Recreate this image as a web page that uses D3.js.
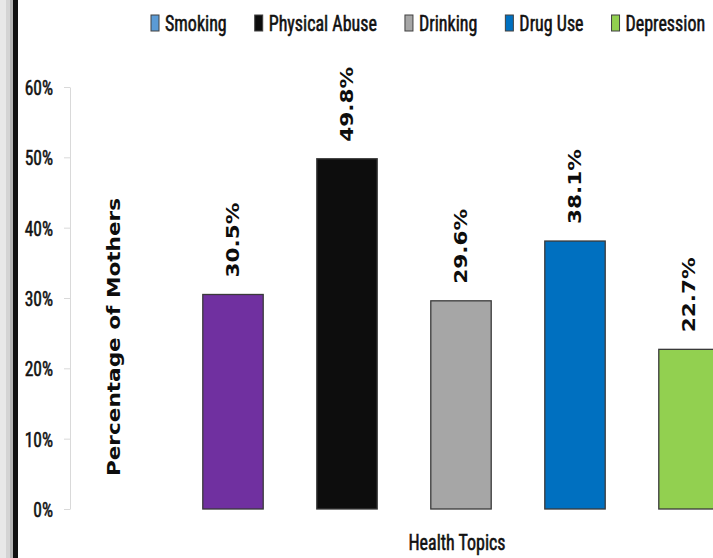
<!DOCTYPE html>
<html>
  <head>
    <meta charset="UTF-8">
    <script src="https://d3js.org/d3.v7.min.js"></script>
    <style>
      body{ margin: 0; background: #fff; overflow: hidden; }
      .narrow{ font-family: "Liberation Sans Narrow", "Arial Narrow", "Roboto Condensed", sans-serif; fill: #111; stroke: #111; stroke-width: 0.45px; }
      .bold{ font-family: "DejaVu Sans", Verdana, sans-serif; font-weight: bold; fill: #0d0d0d; }
      .axis .domain, .axis line{ stroke: #d9d9d9; }
    </style>
    <title>Health Topics</title>
  </head>
  <body>
    <svg id="chart" width="713" height="558"></svg>

    <script>
      // chart values
      const topics = ["Smoking", "Physical Abuse", "Drinking", "Drug Use", "Depression"];
      const values = [30.5, 49.8, 29.6, 38.1, 22.7];
      const barColors = ["#7030a0", "#0d0d0d", "#a6a6a6", "#0070c0", "#92d050"];
      const legendColors = ["#5b9bd5", "#0d0d0d", "#a6a6a6", "#0070c0", "#92d050"];
      const yTicks = [0, 10, 20, 30, 40, 50, 60];

      const svg = d3.select("svg#chart");

      // frame strip on the left edge
      const strips = [["#e8e8e8", 0, 6], ["#d4d4d4", 6, 10], ["#b4b4b4", 10, 13], ["#111", 13, 18]];
      svg.selectAll("rect.strip").data(strips).join("rect")
         .attr("class", "strip")
         .attr("x", d => d[1]).attr("y", 0)
         .attr("width", d => d[2] - d[1]).attr("height", 558)
         .attr("fill", d => d[0]);

      const yScale = d3.scaleLinear().domain([0, 60]).range([509, 87]);
      const xScale = d3.scaleBand().domain(topics).range([176, 746])
                       .paddingInner(0.47).paddingOuter(0.235);

      // y axis
      let leftAxis = d3.axisLeft(yScale).tickValues(yTicks)
                       .tickFormat(d => d + "%").tickSize(6).tickSizeOuter(0);
      let yAxis = svg.append("g")
         .attr("class", "axis")
         .attr("transform", "translate(70,0)")
         .call(leftAxis);
      yAxis.selectAll("text")
           .attr("class", "narrow")
           .attr("x", -17)
           .attr("dy", "0.36em")
           .attr("transform", "scale(1,1.18)")
           .style("font-size", "17.5px");

      // bars
      svg.selectAll("rect.bar").data(topics).join("rect")
         .attr("class", "bar")
         .attr("x", d => xScale(d))
         .attr("y", (d, i) => yScale(values[i]))
         .attr("width", xScale.bandwidth())
         .attr("height", (d, i) => yScale(0) - yScale(values[i]))
         .attr("fill", (d, i) => barColors[i])
         .attr("stroke", "#3a3a3a")
         .attr("stroke-width", 1.3);

      // value labels, rotated
      svg.selectAll("text.val").data(topics).join("text")
         .attr("class", "val bold")
         .attr("transform", (d, i) => "translate(" + (xScale(d) + xScale.bandwidth() / 2) + "," + (yScale(values[i]) - 17) + ") rotate(-90) scale(1.27,1)")
         .attr("dy", "0.36em")
         .style("font-size", "17px")
         .text((d, i) => values[i].toFixed(1) + "%");

      // axis titles
      svg.append("text")
         .attr("class", "bold")
         .attr("text-anchor", "middle")
         .attr("transform", "translate(120,337) rotate(-90) scale(1.27,1)")
         .style("font-size", "17px")
         .text("Percentage of Mothers");

      svg.append("text")
         .attr("class", "narrow")
         .attr("text-anchor", "middle")
         .attr("transform", "translate(457,550) scale(1,1.22)")
         .style("font-size", "18px")
         .text("Health Topics");

      // legend
      let lx = 151;
      topics.forEach((t, i) => {
        svg.append("rect")
           .attr("x", lx).attr("y", 15)
           .attr("width", 8).attr("height", 16)
           .attr("fill", legendColors[i])
           .attr("stroke", "#404040")
           .attr("stroke-width", 1);
        let label = svg.append("text")
           .attr("class", "narrow")
           .attr("transform", "translate(" + (lx + 14) + ",31) scale(1,1.25)")
           .style("font-size", "18px")
           .text(t);
        lx += 14 + label.node().getComputedTextLength() + 28;
      });
    </script>
  </body>
</html>
